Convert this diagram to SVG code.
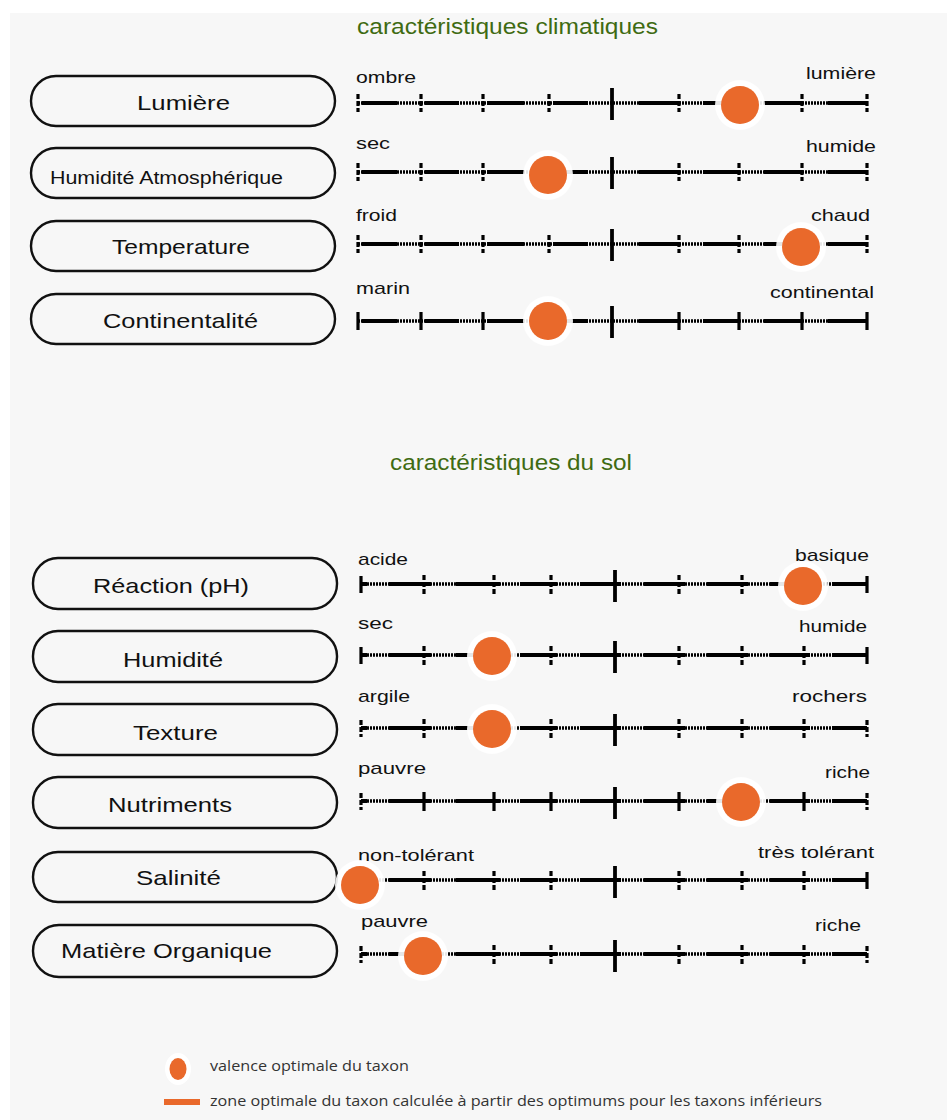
<svg xmlns="http://www.w3.org/2000/svg" xmlns:xlink="http://www.w3.org/1999/xlink" width="947" height="1120" viewBox="0 0 947 1120">
<style>
text{font-family:"Liberation Sans",Arial,sans-serif;fill:#111}
.title{font-size:22px;fill:#3f6b12}
.pill{fill:none;stroke:#111;stroke-width:2.4}
.plab{font-size:21px}
.slab{font-size:17px}
.base{fill:none;stroke:#000;stroke-width:3.4;stroke-dasharray:2 1}
.solid{fill:none;stroke:#000;stroke-width:3.8}
.tick{fill:none;stroke:#000;stroke-width:3.2}
.dtick{fill:none;stroke:#000;stroke-width:3.2;stroke-dasharray:5 2}
.big{fill:none;stroke:#000;stroke-width:3.8}
.halo{fill:#fff;opacity:0.9}
.dot{fill:#e9692b}
.leg{font-family:"Open Sans","DejaVu Sans",sans-serif;font-size:15px;fill:#333}
</style>
<defs>
<path id="cBase" d="M358 0H867"/>
<path id="cSolid" d="M362 0H397M425 0H459M487 0H524M553 0H588M639 0H679M703 0H739M764 0H802M828 0H867"/>
<path id="cMinor" d="M421 -9V9M483 -9V9M549 -9V9M679 -9V9M739 -9V9M802 -9V9M358 -9V9M867 -9V9"/>
<path id="cBig" d="M612 -15V17"/>
<path id="sBase" d="M361 0H867"/>
<path id="sSolid" d="M361 0H367M389 0H431M456 0H500M520 0H557M580 0H621M644 0H685M707 0H748M770 0H810M832 0H867"/>
<path id="sMinor" d="M424 -9V10M494 -9V10M551 -9V10M679 -9V10M742 -9V10M804 -9V10"/>
<path id="sEnds" d="M361 -8V9M867 -8V9"/>
<path id="sBig" d="M615 -14V18"/>
</defs>
<rect x="0" y="0" width="947" height="1120" fill="#fff"/>
<rect x="10" y="13" width="937" height="1107" fill="#f7f7f7"/>

<text class="title" x="357" y="34" textLength="301" lengthAdjust="spacingAndGlyphs">caractéristiques climatiques</text>
<text class="title" x="390" y="470" textLength="242" lengthAdjust="spacingAndGlyphs">caractéristiques du sol</text>

<g id="node-lumiere"><rect class="pill" x="31" y="76" width="304" height="50" rx="25"/><text class="plab" x="137" y="110" textLength="93" lengthAdjust="spacingAndGlyphs">Lumière</text></g>
<g id="node-humidite-atm"><rect class="pill" x="31" y="148" width="304" height="50" rx="25"/><text class="plab" style="font-size:18px" x="50" y="184" textLength="233" lengthAdjust="spacingAndGlyphs">Humidité Atmosphérique</text></g>
<g id="node-temperature"><rect class="pill" x="31" y="221" width="304" height="50" rx="25"/><text class="plab" x="112" y="254" textLength="138" lengthAdjust="spacingAndGlyphs">Temperature</text></g>
<g id="node-continentalite"><rect class="pill" x="31" y="294" width="304" height="50" rx="25"/><text class="plab" x="103" y="328" textLength="155" lengthAdjust="spacingAndGlyphs">Continentalité</text></g>

<g id="node-reaction"><rect class="pill" x="33" y="558" width="304" height="51" rx="25"/><text class="plab" x="93" y="593" textLength="156" lengthAdjust="spacingAndGlyphs">Réaction (pH)</text></g>
<g id="node-humidite"><rect class="pill" x="33" y="631" width="304" height="51" rx="25"/><text class="plab" x="123" y="667" textLength="100" lengthAdjust="spacingAndGlyphs">Humidité</text></g>
<g id="node-texture"><rect class="pill" x="33" y="704" width="304" height="51" rx="25"/><text class="plab" x="133" y="740" textLength="85" lengthAdjust="spacingAndGlyphs">Texture</text></g>
<g id="node-nutriments"><rect class="pill" x="33" y="777" width="304" height="51" rx="25"/><text class="plab" x="108" y="812" textLength="124" lengthAdjust="spacingAndGlyphs">Nutriments</text></g>
<g id="node-salinite"><rect class="pill" x="33" y="852" width="304" height="50" rx="25"/><text class="plab" x="136" y="885" textLength="85" lengthAdjust="spacingAndGlyphs">Salinité</text></g>
<g id="node-matiere"><rect class="pill" x="33" y="925" width="304" height="52" rx="26"/><text class="plab" x="61" y="958" textLength="211" lengthAdjust="spacingAndGlyphs">Matière Organique</text></g>

<g id="connectors">
<g id="scale-lumiere">
<text class="slab" x="356" y="83" textLength="60" lengthAdjust="spacingAndGlyphs">ombre</text>
<text class="slab" x="806" y="79" textLength="70" lengthAdjust="spacingAndGlyphs">lumière</text>
<use href="#cBase" class="base" y="103"/><use href="#cSolid" class="solid" y="103"/><use href="#cMinor" class="dtick" y="103"/><use href="#cBig" class="big" y="103"/>
<circle class="halo" cx="740" cy="105" r="25"/><circle class="dot" cx="740" cy="105" r="19"/>
</g>
<g id="scale-humidite-atm">
<text class="slab" x="356" y="149" textLength="34" lengthAdjust="spacingAndGlyphs">sec</text>
<text class="slab" x="806" y="152" textLength="70" lengthAdjust="spacingAndGlyphs">humide</text>
<use href="#cBase" class="base" y="172"/><use href="#cSolid" class="solid" y="172"/><use href="#cMinor" class="dtick" y="172"/><use href="#cBig" class="big" y="172"/>
<circle class="halo" cx="548" cy="175" r="25"/><circle class="dot" cx="548" cy="175" r="19"/>
</g>
<g id="scale-temperature">
<text class="slab" x="356" y="221" textLength="41" lengthAdjust="spacingAndGlyphs">froid</text>
<text class="slab" x="811" y="221" textLength="59" lengthAdjust="spacingAndGlyphs">chaud</text>
<use href="#cBase" class="base" y="244"/><use href="#cSolid" class="solid" y="244"/><use href="#cMinor" class="dtick" y="244"/><use href="#cBig" class="big" y="244"/>
<circle class="halo" cx="801" cy="247" r="25"/><circle class="dot" cx="801" cy="247" r="19"/>
</g>
<g id="scale-continentalite">
<text class="slab" x="356" y="294" textLength="54" lengthAdjust="spacingAndGlyphs">marin</text>
<text class="slab" x="770" y="298" textLength="104" lengthAdjust="spacingAndGlyphs">continental</text>
<use href="#cBase" class="base" y="321"/><use href="#cSolid" class="solid" y="321"/><use href="#cMinor" class="tick" y="321"/><use href="#cBig" class="big" y="321"/>
<circle class="halo" cx="548" cy="321" r="25"/><circle class="dot" cx="548" cy="321" r="19"/>
</g>

<g id="scale-reaction">
<text class="slab" x="358" y="565" textLength="50" lengthAdjust="spacingAndGlyphs">acide</text>
<text class="slab" x="795" y="561" textLength="74" lengthAdjust="spacingAndGlyphs">basique</text>
<use href="#sBase" class="base" y="584"/><use href="#sSolid" class="solid" y="584"/><use href="#sMinor" class="dtick" y="584"/><use href="#sEnds" class="tick" y="584"/><use href="#sBig" class="big" y="584"/>
<circle class="halo" cx="803" cy="586" r="25"/><circle class="dot" cx="803" cy="586" r="19"/>
</g>
<g id="scale-humidite">
<text class="slab" x="358" y="629" textLength="35" lengthAdjust="spacingAndGlyphs">sec</text>
<text class="slab" x="799" y="632" textLength="68" lengthAdjust="spacingAndGlyphs">humide</text>
<use href="#sBase" class="base" y="655"/><use href="#sSolid" class="solid" y="655"/><use href="#sMinor" class="dtick" y="655"/><use href="#sEnds" class="tick" y="655"/><use href="#sBig" class="big" y="655"/>
<circle class="halo" cx="492" cy="656" r="25"/><circle class="dot" cx="492" cy="656" r="19"/>
</g>
<g id="scale-texture">
<text class="slab" x="358" y="702" textLength="52" lengthAdjust="spacingAndGlyphs">argile</text>
<text class="slab" x="792" y="702" textLength="75" lengthAdjust="spacingAndGlyphs">rochers</text>
<use href="#sBase" class="base" y="728"/><use href="#sSolid" class="solid" y="728"/><use href="#sMinor" class="dtick" y="728"/><use href="#sEnds" class="dtick" y="728"/><use href="#sBig" class="big" y="728"/>
<circle class="halo" cx="492" cy="729" r="25"/><circle class="dot" cx="492" cy="729" r="19"/>
</g>
<g id="scale-nutriments">
<text class="slab" x="358" y="774" textLength="68" lengthAdjust="spacingAndGlyphs">pauvre</text>
<text class="slab" x="825" y="778" textLength="45" lengthAdjust="spacingAndGlyphs">riche</text>
<use href="#sBase" class="base" y="801"/><use href="#sSolid" class="solid" y="801"/><use href="#sMinor" class="tick" y="801"/><use href="#sEnds" class="dtick" y="801"/><use href="#sBig" class="big" y="801"/>
<circle class="halo" cx="741" cy="802" r="25"/><circle class="dot" cx="741" cy="802" r="19"/>
</g>
<g id="scale-salinite">
<text class="slab" x="358" y="861" textLength="116" lengthAdjust="spacingAndGlyphs">non-tolérant</text>
<text class="slab" x="758" y="858" textLength="116" lengthAdjust="spacingAndGlyphs">très tolérant</text>
<use href="#sBase" class="base" y="880"/><use href="#sSolid" class="solid" y="880"/><use href="#sMinor" class="dtick" y="880"/><use href="#sEnds" class="tick" y="880"/><use href="#sBig" class="big" y="880"/>
<circle class="halo" cx="360" cy="885" r="25"/><circle class="dot" cx="360" cy="885" r="19"/>
</g>
<g id="scale-matiere">
<text class="slab" x="361" y="927" textLength="67" lengthAdjust="spacingAndGlyphs">pauvre</text>
<text class="slab" x="815" y="931" textLength="46" lengthAdjust="spacingAndGlyphs">riche</text>
<use href="#sBase" class="base" y="954"/><use href="#sSolid" class="solid" y="954"/><use href="#sMinor" class="dtick" y="954"/><use href="#sEnds" class="dtick" y="954"/><use href="#sBig" class="big" y="954"/>
<circle class="halo" cx="423" cy="956" r="25"/><circle class="dot" cx="423" cy="956" r="19"/>
</g>
</g>

<g id="legend">
<ellipse cx="178" cy="1069" rx="13" ry="16" fill="#fff"/>
<ellipse class="dot" cx="178" cy="1069" rx="8.5" ry="11"/>
<text class="leg" x="210" y="1071" textLength="199" lengthAdjust="spacingAndGlyphs">valence optimale du taxon</text>
<rect x="164" y="1099" width="36" height="6" fill="#e9692b"/>
<text class="leg" x="210" y="1106" textLength="612" lengthAdjust="spacingAndGlyphs">zone optimale du taxon calculée à partir des optimums pour les taxons inférieurs</text>
</g>
</svg>
